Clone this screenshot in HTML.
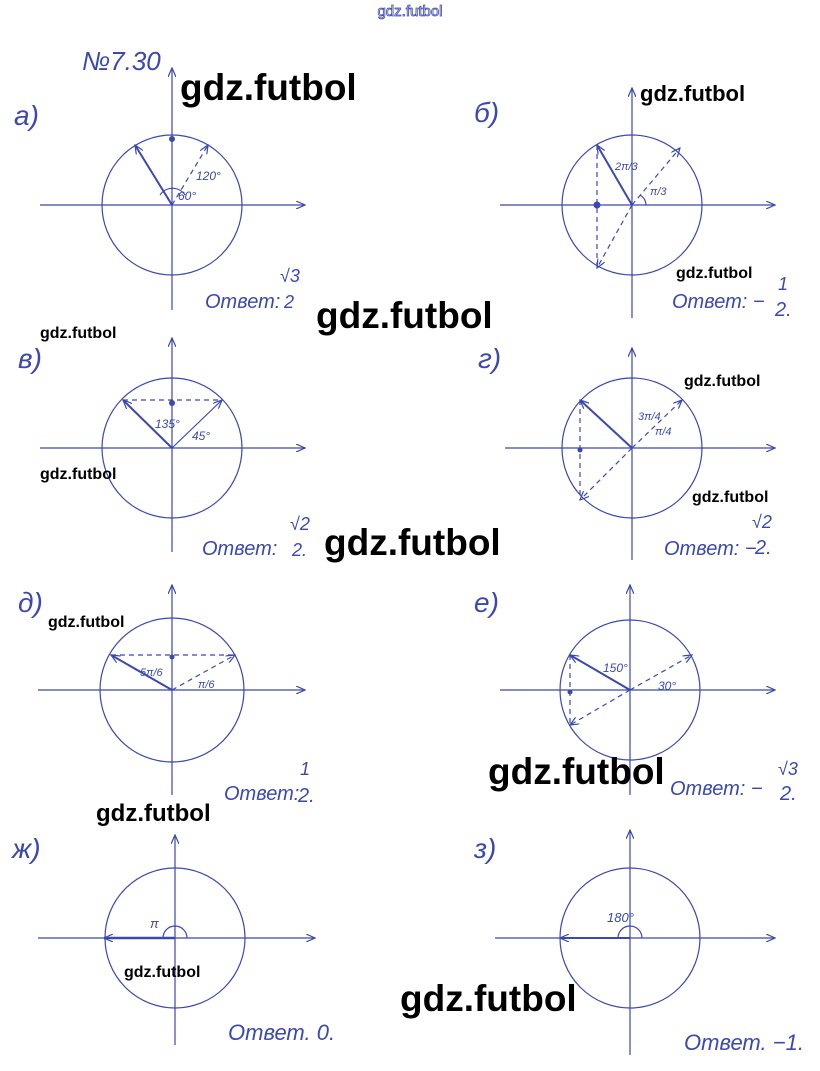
<!DOCTYPE html>
<html><head><meta charset="utf-8"><style>
html,body{margin:0;padding:0;background:#fff}
svg{display:block}
.w{font-family:"Liberation Sans",sans-serif;font-weight:bold;fill:#000}
.h{font-family:"Liberation Sans",sans-serif;fill:#3b48b0;font-style:italic;font-weight:300}
</style></head><body>
<svg width="820" height="1071" viewBox="0 0 820 1071" xmlns="http://www.w3.org/2000/svg">
<defs><marker id="a" markerWidth="10" markerHeight="8" refX="9" refY="4" orient="auto" markerUnits="userSpaceOnUse"><path d="M0,0 L9,4 L0,8" fill="none" stroke="#3b48b0" stroke-width="1.2"/></marker></defs>
<text x="410" y="16" text-anchor="middle" font-family="Liberation Sans,sans-serif" font-size="15" fill="#fff" stroke="#3b48b0" stroke-width="0.8">gdz.futbol</text>
<g stroke="#3b48b0" stroke-width="1.2" fill="none">
<circle cx="172" cy="205" r="70"/>
<line x1="40" y1="205" x2="305" y2="205" marker-end="url(#a)"/>
<line x1="172" y1="310" x2="172" y2="68" marker-end="url(#a)"/>
<line x1="172" y1="205" x2="135" y2="145" stroke-width="2" marker-end="url(#a)"/>
<line x1="172" y1="205" x2="208" y2="145" stroke-dasharray="5,4" marker-end="url(#a)"/>
<path d="M160,195 A15,15 0 0 1 185,195"/>
<circle cx="632" cy="205" r="70"/>
<line x1="500" y1="205" x2="775" y2="205" marker-end="url(#a)"/>
<line x1="632" y1="318" x2="632" y2="88" marker-end="url(#a)"/>
<line x1="632" y1="205" x2="597" y2="145" stroke-width="2" marker-end="url(#a)"/>
<line x1="632" y1="205" x2="680" y2="148" stroke-dasharray="5,4" marker-end="url(#a)"/>
<line x1="632" y1="205" x2="597" y2="268" stroke-dasharray="5,4" marker-end="url(#a)"/>
<line x1="597" y1="145" x2="597" y2="268" stroke-dasharray="5,4"/>
<path d="M640,195 A12,12 0 0 1 646,205"/>
<circle cx="172" cy="448" r="70"/>
<line x1="40" y1="448" x2="305" y2="448" marker-end="url(#a)"/>
<line x1="172" y1="552" x2="172" y2="338" marker-end="url(#a)"/>
<line x1="172" y1="448" x2="123" y2="400" stroke-width="2" marker-end="url(#a)"/>
<line x1="172" y1="448" x2="222" y2="400" marker-end="url(#a)"/>
<line x1="123" y1="400" x2="222" y2="400" stroke-dasharray="5,4"/>
<circle cx="632" cy="448" r="70"/>
<line x1="505" y1="448" x2="775" y2="448" marker-end="url(#a)"/>
<line x1="632" y1="560" x2="632" y2="348" marker-end="url(#a)"/>
<line x1="632" y1="448" x2="580" y2="400" stroke-width="2" marker-end="url(#a)"/>
<line x1="632" y1="448" x2="682" y2="400" stroke-dasharray="5,4" marker-end="url(#a)"/>
<line x1="632" y1="448" x2="580" y2="500" stroke-dasharray="5,4" marker-end="url(#a)"/>
<line x1="580" y1="400" x2="580" y2="500" stroke-dasharray="5,4"/>
<circle cx="172" cy="690" r="72"/>
<line x1="38" y1="690" x2="305" y2="690" marker-end="url(#a)"/>
<line x1="172" y1="795" x2="172" y2="585" marker-end="url(#a)"/>
<line x1="172" y1="690" x2="111" y2="655" stroke-width="2" marker-end="url(#a)"/>
<line x1="172" y1="690" x2="235" y2="655" stroke-dasharray="5,4" marker-end="url(#a)"/>
<line x1="111" y1="655" x2="235" y2="655" stroke-dasharray="5,4"/>
<circle cx="630" cy="690" r="70"/>
<line x1="500" y1="690" x2="775" y2="690" marker-end="url(#a)"/>
<line x1="630" y1="795" x2="630" y2="585" marker-end="url(#a)"/>
<line x1="630" y1="690" x2="570" y2="655" stroke-width="2" marker-end="url(#a)"/>
<line x1="630" y1="690" x2="692" y2="655" stroke-dasharray="5,4" marker-end="url(#a)"/>
<line x1="630" y1="690" x2="570" y2="725" stroke-dasharray="5,4" marker-end="url(#a)"/>
<line x1="570" y1="655" x2="570" y2="725" stroke-dasharray="5,4"/>
<circle cx="175" cy="938" r="70"/>
<line x1="38" y1="938" x2="315" y2="938" marker-end="url(#a)"/>
<line x1="175" y1="1045" x2="175" y2="835" marker-end="url(#a)"/>
<line x1="175" y1="938" x2="104" y2="938" stroke-width="2.5" marker-end="url(#a)"/>
<path d="M163,938 A12,12 0 0 1 187,938"/>
<circle cx="630" cy="938" r="70"/>
<line x1="495" y1="938" x2="775" y2="938" marker-end="url(#a)"/>
<line x1="630" y1="1055" x2="630" y2="830" marker-end="url(#a)"/>
<line x1="630" y1="938" x2="560" y2="938" stroke-width="2" marker-end="url(#a)"/>
<path d="M618,938 A12,12 0 0 1 642,938"/>
</g>
<g fill="#3b48b0"><circle cx="172" cy="139" r="3"/><circle cx="597" cy="205" r="3.5"/><circle cx="172" cy="403" r="3"/><circle cx="580" cy="450" r="2.5"/><circle cx="172" cy="657" r="2.5"/><circle cx="570" cy="692" r="2.5"/></g>
<g class="h">
<text x="82" y="70" font-size="26">№7.30</text>
<text x="14" y="125" font-size="28">а)</text><text x="474" y="122" font-size="28">б)</text>
<text x="18" y="368" font-size="28">в)</text><text x="478" y="368" font-size="28">г)</text>
<text x="18" y="612" font-size="28">д)</text><text x="474" y="612" font-size="28">е)</text>
<text x="12" y="858" font-size="28">ж)</text><text x="474" y="858" font-size="28">з)</text>
<text x="205" y="308" font-size="20">Ответ:</text><text x="280" y="282" font-size="18">√3</text><text x="284" y="308" font-size="18">2</text>
<text x="672" y="308" font-size="20">Ответ: −</text><text x="778" y="290" font-size="18">1</text><text x="775" y="316" font-size="20">2.</text>
<text x="202" y="555" font-size="20">Ответ:</text><text x="290" y="530" font-size="18">√2</text><text x="292" y="556" font-size="18">2.</text>
<text x="664" y="555" font-size="20">Ответ: −</text><text x="752" y="528" font-size="18">√2</text><text x="755" y="554" font-size="20">2.</text>
<text x="224" y="800" font-size="20">Ответ:</text><text x="300" y="775" font-size="18">1</text><text x="298" y="802" font-size="20">2.</text>
<text x="670" y="795" font-size="20">Ответ: −</text><text x="778" y="775" font-size="18">√3</text><text x="780" y="800" font-size="20">2.</text>
<text x="228" y="1040" font-size="22">Ответ. 0.</text>
<text x="684" y="1050" font-size="22">Ответ. −1.</text>
<text x="196" y="180" font-size="12">120°</text><text x="178" y="200" font-size="12">60°</text>
<text x="615" y="170" font-size="11">2π/3</text><text x="650" y="195" font-size="11">π/3</text>
<text x="155" y="428" font-size="12">135°</text><text x="192" y="440" font-size="12">45°</text>
<text x="638" y="420" font-size="11">3π/4</text><text x="655" y="435" font-size="11">π/4</text>
<text x="140" y="676" font-size="11">5π/6</text><text x="198" y="688" font-size="11">π/6</text>
<text x="603" y="672" font-size="12">150°</text><text x="658" y="690" font-size="12">30°</text>
<text x="150" y="928" font-size="13">π</text><text x="607" y="922" font-size="13">180°</text>
</g>
<g class="w">
<text x="180" y="100" font-size="37">gdz.futbol</text>
<text x="640" y="101" font-size="22">gdz.futbol</text>
<text x="676" y="278" font-size="16">gdz.futbol</text>
<text x="316" y="328" font-size="37">gdz.futbol</text>
<text x="40" y="338" font-size="16">gdz.futbol</text>
<text x="684" y="386" font-size="16">gdz.futbol</text>
<text x="40" y="479" font-size="16">gdz.futbol</text>
<text x="692" y="502" font-size="16">gdz.futbol</text>
<text x="324" y="555" font-size="37">gdz.futbol</text>
<text x="48" y="627" font-size="16">gdz.futbol</text>
<text x="488" y="784" font-size="37">gdz.futbol</text>
<text x="96" y="821" font-size="24">gdz.futbol</text>
<text x="124" y="977" font-size="16">gdz.futbol</text>
<text x="400" y="1011" font-size="37">gdz.futbol</text>
</g>
</svg>
</body></html>
